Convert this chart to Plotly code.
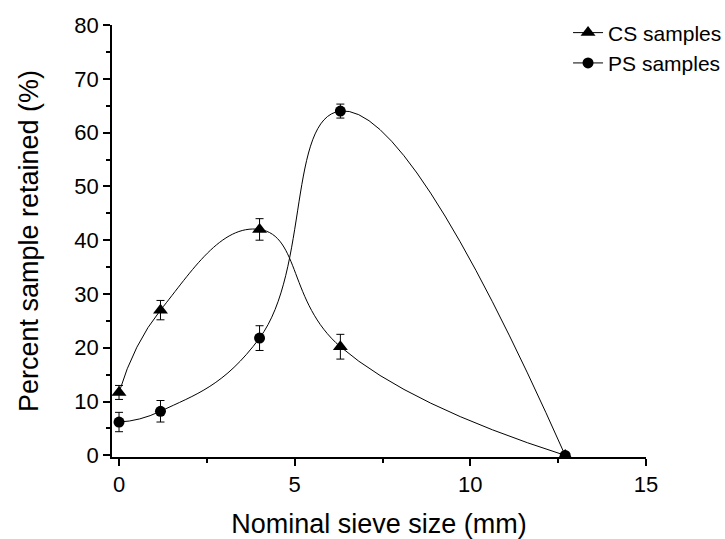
import plotly.graph_objects as go

sieve_mm = [0, 1.18, 4, 6.3, 12.7]
cs_values = [11.7, 27.0, 42.0, 20.2, 0.0]
cs_err = [1.3, 1.8, 2.0, 2.3, 0.0]
ps_values = [6.2, 8.2, 21.8, 64.0, 0.0]
ps_err = [1.8, 2.0, 2.3, 1.3, 0.0]

font_family = "Liberation Sans, Arial, sans-serif"

fig = go.Figure()
fig.add_trace(go.Scatter(
    x=sieve_mm, y=cs_values, name="CS samples", mode="lines+markers",
    line=dict(color="black", width=1, shape="spline", smoothing=1.3),
    marker=dict(symbol="triangle-up", size=13, color="black"),
    error_y=dict(type="data", array=cs_err, visible=True, color="black", thickness=1, width=4),
))
fig.add_trace(go.Scatter(
    x=sieve_mm, y=ps_values, name="PS samples", mode="lines+markers",
    line=dict(color="black", width=1, shape="spline", smoothing=1.3),
    marker=dict(symbol="circle", size=11, color="black"),
    error_y=dict(type="data", array=ps_err, visible=True, color="black", thickness=1, width=4),
))

axis_common = dict(
    showline=True, linecolor="black", linewidth=1.5, mirror=False,
    ticks="outside", ticklen=7, tickwidth=1.5, tickcolor="black",
    showgrid=False, zeroline=False,
    tickfont=dict(family=font_family, size=22, color="black"),
    title_font=dict(family=font_family, size=27, color="black"),
)

fig.update_xaxes(
    range=[-0.2, 15], tickvals=[0, 5, 10, 15],
    minor=dict(tickvals=[2.5, 7.5, 12.5], ticks="outside", ticklen=4, tickwidth=1.5, tickcolor="black"),
    title_text="Nominal sieve size (mm)", title_standoff=20,
    **axis_common,
)
fig.update_yaxes(
    range=[-0.3, 80], tickvals=[0, 10, 20, 30, 40, 50, 60, 70, 80],
    minor=dict(tickvals=[5, 15, 25, 35, 45, 55, 65, 75], ticks="outside", ticklen=4, tickwidth=1.5, tickcolor="black"),
    title_text="Percent sample retained (%)", title_standoff=28,
    **axis_common,
)

fig.update_layout(
    width=725, height=539,
    margin=dict(l=112, r=79, t=25, b=82, autoexpand=False),
    plot_bgcolor="white", paper_bgcolor="white",
    showlegend=True,
    legend=dict(x=0.854, y=1.029, xanchor="left", yanchor="top",
                font=dict(family=font_family, size=21, color="black"),
                bgcolor="rgba(0,0,0,0)", tracegroupgap=0),
    font=dict(family=font_family, color="black"),
)

fig.write_html("out.html", config={"displayModeBar": False},
               post_script="document.body.style.margin='0';document.body.style.overflow='hidden';")
